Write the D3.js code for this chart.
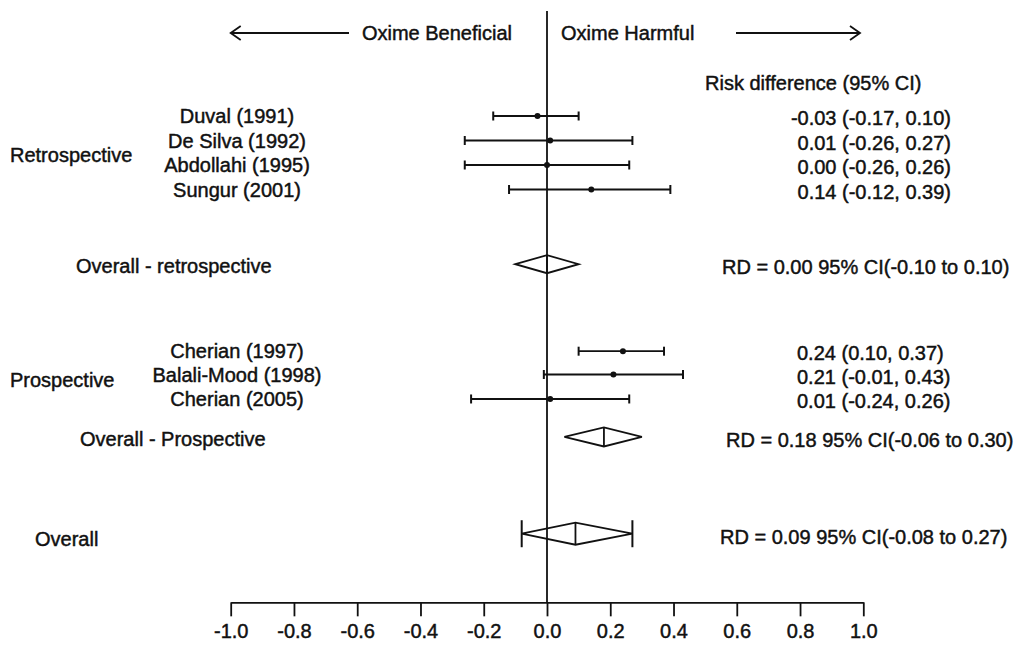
<!DOCTYPE html>
<html>
<head>
<meta charset="utf-8">
<script src="https://cdn.jsdelivr.net/npm/d3@7"></script>
<style>
  html, body { margin: 0; padding: 0; background: #fff; }
  svg { display: block; }
  text { font-family: "Liberation Sans", Arial, sans-serif; font-size: 20px; fill: #111; stroke: #111; stroke-width: 0.45px; }
</style>
</head>
<body>
<svg id="chart" width="1015" height="647"></svg>
<script>
// ---------- data ----------
const retroStudies = ["Duval (1991)", "De Silva (1992)", "Abdollahi (1995)", "Sungur (2001)"];
const retroRD = [-0.03, 0.01, 0.00, 0.14];
const retroLo = [-0.17, -0.26, -0.26, -0.12];
const retroHi = [0.10, 0.27, 0.26, 0.39];
const retroText = ["-0.03 (-0.17, 0.10)", "0.01 (-0.26, 0.27)", "0.00 (-0.26, 0.26)", "0.14 (-0.12, 0.39)"];

const prospStudies = ["Cherian (1997)", "Balali-Mood (1998)", "Cherian (2005)"];
const prospRD = [0.24, 0.21, 0.01];
const prospLo = [0.10, -0.01, -0.24];
const prospHi = [0.37, 0.43, 0.26];
const prospText = ["0.24 (0.10, 0.37)", "0.21 (-0.01, 0.43)", "0.01 (-0.24, 0.26)"];

const pooledNames = ["Overall - retrospective", "Overall - Prospective", "Overall"];
const pooledRD = [0.00, 0.18, 0.09];
const pooledLo = [-0.10, 0.055, -0.08];   // diamond ends as drawn
const pooledHi = [0.10, 0.30, 0.27];
const pooledText = ["RD = 0.00 95% CI(-0.10 to 0.10)", "RD = 0.18 95% CI(-0.06 to 0.30)", "RD = 0.09 95% CI(-0.08 to 0.27)"];

const groupNames = ["Retrospective", "Prospective"];
const tickValues = [-1.0, -0.8, -0.6, -0.4, -0.2, 0.0, 0.2, 0.4, 0.6, 0.8, 1.0];
const tickLabels = ["-1.0", "-0.8", "-0.6", "-0.4", "-0.2", "0.0", "0.2", "0.4", "0.6", "0.8", "1.0"];
const headerLeft = "Oxime Beneficial";
const headerRight = "Oxime Harmful";
const columnTitle = "Risk difference (95% CI)";

// ---------- layout (row slots) ----------
const retroRows = [0, 1, 2, 3];
const prospRows = [9.6, 10.55, 11.55];
const pooledRows = [6.05, 13.1, 17.05];
const groupRows = [1.6, 10.75];
const axisRow = 19.85;

const svg = d3.select("#chart");
const x = d3.scaleLinear().domain([-1, 1]).range([230.7, 863.3]);
const y = d3.scaleLinear().domain([0, 20]).range([116, 606]);
const ink = "#111";
const sw = 1.8;

// vertical line of no effect
svg.append("line")
  .attr("x1", x(0)).attr("x2", x(0))
  .attr("y1", 11).attr("y2", y(axisRow))
  .attr("stroke", ink).attr("stroke-width", sw);

// axis
const axis = d3.axisBottom(x)
  .tickValues(tickValues)
  .tickFormat((d, i) => tickLabels[i])
  .tickSize(14).tickSizeOuter(0).tickPadding(7);
const gAxis = svg.append("g").attr("transform", `translate(0,${y(axisRow)})`).call(axis);
gAxis.select(".domain").attr("stroke", ink).attr("stroke-width", sw);
gAxis.selectAll(".tick line").attr("stroke", ink).attr("stroke-width", sw);
gAxis.selectAll(".tick text").attr("font-size", 20).attr("font-family", "Liberation Sans, Arial, sans-serif").attr("fill", ink);

// header
const hy = 33;
svg.append("text").attr("x", 512).attr("y", hy).attr("dy", "0.36em").attr("text-anchor", "end").text(headerLeft);
svg.append("text").attr("x", 561).attr("y", hy).attr("dy", "0.36em").attr("text-anchor", "start").text(headerRight);
const arrows = [[x(-1), 349], [736, 860]];
svg.append("line").attr("x1", arrows[0][0]).attr("x2", arrows[0][1]).attr("y1", hy).attr("y2", hy).attr("stroke", ink).attr("stroke-width", sw);
svg.append("path").attr("d", `M${arrows[0][0] + 10},${hy - 7} L${arrows[0][0]},${hy} L${arrows[0][0] + 10},${hy + 7}`).attr("fill", "none").attr("stroke", ink).attr("stroke-width", sw);
svg.append("line").attr("x1", arrows[1][0]).attr("x2", arrows[1][1]).attr("y1", hy).attr("y2", hy).attr("stroke", ink).attr("stroke-width", sw);
svg.append("path").attr("d", `M${arrows[1][1] - 10},${hy - 7} L${arrows[1][1]},${hy} L${arrows[1][1] - 10},${hy + 7}`).attr("fill", "none").attr("stroke", ink).attr("stroke-width", sw);

svg.append("text").attr("x", 705).attr("y", 83).attr("dy", "0.36em").text(columnTitle);

// group labels
svg.selectAll("text.group").data(groupNames).enter().append("text")
  .attr("class", "group").attr("x", 10).attr("y", (d, i) => y(groupRows[i])).attr("dy", "0.36em").text(d => d);

// studies
function drawStudies(names, rd, lo, hi, texts, rows, textAnchor, textX) {
  const g = svg.append("g");
  names.forEach((n, i) => {
    const yy = y(rows[i]);
    g.append("text").attr("x", 237).attr("y", yy).attr("dy", "0.36em").attr("text-anchor", "middle").text(n);
    g.append("line").attr("x1", x(lo[i])).attr("x2", x(hi[i])).attr("y1", yy).attr("y2", yy).attr("stroke", ink).attr("stroke-width", sw);
    [lo[i], hi[i]].forEach(v => g.append("line").attr("x1", x(v)).attr("x2", x(v)).attr("y1", yy - 4.5).attr("y2", yy + 4.5).attr("stroke", ink).attr("stroke-width", 2));
    g.append("circle").attr("cx", x(rd[i])).attr("cy", yy).attr("r", 3).attr("fill", ink);
    g.append("text").attr("x", textX).attr("y", yy + 2).attr("dy", "0.36em").attr("text-anchor", textAnchor).text(texts[i]);
  });
}
drawStudies(retroStudies, retroRD, retroLo, retroHi, retroText, retroRows, "end", 951);
drawStudies(prospStudies, prospRD, prospLo, prospHi, prospText, prospRows, "start", 797);

// pooled diamonds
const labelX = [76, 80, 35];
const labelDy = [2, 2, 5];
const rdTextX = [722, 726, 720];
const halfH = [9, 9.5, 11];
pooledNames.forEach((n, i) => {
  const yy = y(pooledRows[i]);
  svg.append("text").attr("x", labelX[i]).attr("y", yy + labelDy[i]).attr("dy", "0.36em").text(n);
  svg.append("path")
    .attr("d", `M${x(pooledLo[i])},${yy} L${x(pooledRD[i])},${yy - halfH[i]} L${x(pooledHi[i])},${yy} L${x(pooledRD[i])},${yy + halfH[i]} Z`)
    .attr("fill", "none").attr("stroke", ink).attr("stroke-width", sw);
  svg.append("line").attr("x1", x(pooledRD[i])).attr("x2", x(pooledRD[i])).attr("y1", yy - halfH[i]).attr("y2", yy + halfH[i]).attr("stroke", ink).attr("stroke-width", sw);
  if (i === 2) {
    [pooledLo[i], pooledHi[i]].forEach(v => svg.append("line").attr("x1", x(v)).attr("x2", x(v)).attr("y1", yy - 13.5).attr("y2", yy + 13.5).attr("stroke", ink).attr("stroke-width", 2));
  }
  svg.append("text").attr("x", rdTextX[i]).attr("y", yy + 3).attr("dy", "0.36em").text(pooledText[i]);
});
</script>
</body>
</html>
